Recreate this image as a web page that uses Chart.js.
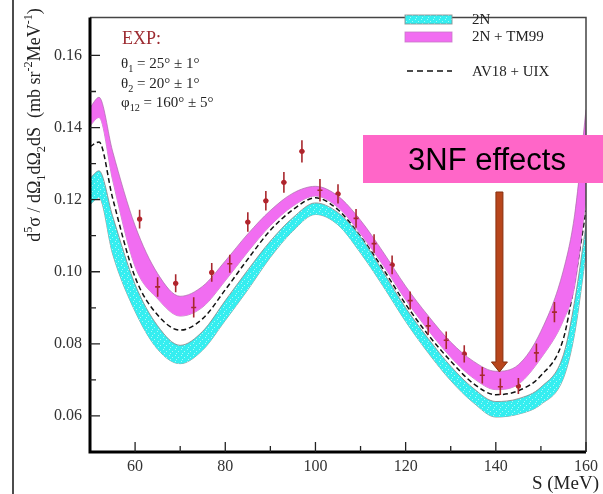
<!DOCTYPE html>
<html>
<head>
<meta charset="utf-8">
<script src="https://cdn.jsdelivr.net/npm/chart.js@4/dist/chart.umd.min.js"></script>
<style>
  html, body { margin: 0; padding: 0; background: #fff; }
  #wrap { width: 603px; height: 494px; position: relative; }
</style>
</head>
<body>
<div id="wrap"><canvas id="c"></canvas></div>
<script>
// S grid (MeV) for the theory curves
const S = [50, 52, 55, 60, 65, 70, 75, 80, 85, 90, 95, 100, 105, 110, 115, 120, 125, 130, 135, 140, 145, 150, 155, 157.5, 160];

// 2N + TM99 band
const magTop = [.1455, .1484, .1335, .1128, .0995, .0932, .0960, .1030, .1105, .1170, .1218, .1237, .1210, .1143, .1055, .0960, .0878, .0805, .0752, .0724, .0742, .0835, .1005, .1160, .1450];
const magBot = [.1405, .1428, .1255, .1014, .0925, .0877, .0902, .0975, .1055, .1128, .1182, .1210, .1178, .1105, .1018, .0922, .0838, .0763, .0705, .0673, .0688, .0760, .0865, .0960, .1200];
// AV18 + UIX
const av18 = [.1347, .1360, .1205, .0985, .0880, .0838, .0870, .0950, .1035, .1115, .1172, .1205, .1172, .1098, .1008, .0910, .0825, .0752, .0690, .0659, .0670, .0712, .0815, .0975, .1170];
// 2N band
const cyanTop = [.1259, .1280, .1155, .0965, .0850, .0796, .0835, .0920, .1005, .1085, .1150, .1191, .1164, .1097, .1000, .0900, .0815, .0738, .0677, .0640, .0648, .0680, .0770, .0920, .1130];
const cyanBot = [.1186, .1205, .1050, .0890, .0785, .0745, .0783, .0865, .0950, .1040, .1113, .1159, .1130, .1052, .0960, .0862, .0775, .0698, .0637, .0597, .0605, .0632, .0705, .0830, .1050];

// experimental points
const expS   = [61, 65, 69, 73, 77, 81, 85, 89, 93, 97, 101, 105, 109, 113, 117, 121, 125, 129, 133, 137, 141, 145, 149, 153];
const expY   = [.1146, .0958, .0968, .0901, .0998, .1022, .1138, .1197, .1248, .1334, .1226, .1216, .1148, .1078, .1019, .0920, .0850, .0810, .0772, .0713, .0681, .0683, .0775, .0888];
const expErr = [.0026, .0027, .0025, .0028, .0026, .0025, .0027, .0027, .0029, .0031, .0031, .0027, .0026, .0026, .0026, .0025, .0025, .0024, .0024, .0023, .0023, .0022, .0026, .0028];

// ticks
const xTicks = [60, 80, 100, 120, 140, 160];
const xMinor = [70, 90, 110, 130, 150];
const yTicks = [0.06, 0.08, 0.10, 0.12, 0.14, 0.16];
const yMinor = [0.07, 0.09, 0.11, 0.13, 0.15];

const C = {
    cyan:    '#35eef0',
    cyanDot: '#a8f8f8',
    mag:     '#f16df1',
    edge:    'rgba(140,140,140,0.85)',
    exp:     '#c41f2b',
    expBar:  '#a8282e',
    text:    '#222',
    serif:   "'Liberation Serif', 'DejaVu Serif', serif",
};

function pts(ys) { return S.map((x, i) => ({ x, y: ys[i] })); }

function cyanPattern() {
    const p = document.createElement('canvas');
    p.width = 6; p.height = 6;
    const g = p.getContext('2d');
    g.fillStyle = C.cyan; g.fillRect(0, 0, 6, 6);
    g.fillStyle = C.cyanDot;
    g.fillRect(1, 1, 1, 1); g.fillRect(4, 3, 1, 1); g.fillRect(2, 5, 1, 1);
    return g.createPattern(p, 'repeat');
}

// parts: [text, mode] with mode '' | 'sub' | 'sup'
function rich(ctx, x, y, parts, size, measureOnly) {
    let cx = x;
    for (const [t, m] of parts) {
        const fs = m ? size * 0.68 : size;
        ctx.font = `${fs}px ${C.serif}`;
        const dy = m === 'sub' ? size * 0.28 : m === 'sup' ? -size * 0.42 : 0;
        if (!measureOnly) ctx.fillText(t, cx, y + dy);
        cx += ctx.measureText(t).width;
    }
    return cx - x;
}

const decor = {
    id: 'decor',
    afterDatasetsDraw(chart) {
        const { ctx, scales: { x, y } } = chart;

        // error bars
        ctx.save();
        ctx.strokeStyle = C.expBar;
        ctx.lineWidth = 1.6;
        expS.forEach((s, i) => {
            const px = x.getPixelForValue(s);
            ctx.beginPath();
            ctx.moveTo(px, y.getPixelForValue(expY[i] - expErr[i]));
            ctx.lineTo(px, y.getPixelForValue(expY[i] + expErr[i]));
            ctx.moveTo(px - 2.5, y.getPixelForValue(expY[i]));
            ctx.lineTo(px + 2.5, y.getPixelForValue(expY[i]));
            ctx.stroke();
        });
        ctx.restore();
    },
    afterDraw(chart) {
        const { ctx, chartArea: a, scales: { x, y } } = chart;
        ctx.save();

        // slide border line
        ctx.strokeStyle = '#111';
        ctx.lineWidth = 1.5;
        ctx.beginPath(); ctx.moveTo(13, 0); ctx.lineTo(13, 494); ctx.stroke();

        // frame: top / right thin
        ctx.strokeStyle = '#444';
        ctx.lineWidth = 1.5;
        ctx.beginPath();
        ctx.moveTo(a.left, a.top); ctx.lineTo(a.right, a.top); ctx.lineTo(a.right, a.bottom);
        ctx.stroke();
        // left / bottom thick
        ctx.strokeStyle = '#000';
        ctx.lineWidth = 3;
        ctx.beginPath();
        ctx.moveTo(a.left, a.top); ctx.lineTo(a.left, a.bottom); ctx.lineTo(a.right, a.bottom);
        ctx.stroke();

        // inward ticks
        ctx.lineWidth = 1.3;
        ctx.strokeStyle = '#222';
        ctx.beginPath();
        xTicks.forEach(v => { const p = x.getPixelForValue(v); ctx.moveTo(p, a.bottom); ctx.lineTo(p, a.bottom - 10); });
        xMinor.forEach(v => { const p = x.getPixelForValue(v); ctx.moveTo(p, a.bottom); ctx.lineTo(p, a.bottom - 6); });
        yTicks.forEach(v => { const p = y.getPixelForValue(v); ctx.moveTo(a.left, p); ctx.lineTo(a.left + 10, p); });
        yMinor.forEach(v => { const p = y.getPixelForValue(v); ctx.moveTo(a.left, p); ctx.lineTo(a.left + 6, p); });
        ctx.stroke();

        // y axis title
        ctx.fillStyle = C.text;
        ctx.textBaseline = 'alphabetic';
        const yt = [['d', ''], ['5', 'sup'], ['\u03c3 / d\u03a9', ''], ['1', 'sub'], ['d\u03a9', ''], ['2', 'sub'],
                    ['dS  (mb sr', ''], ['-2', 'sup'], ['MeV', ''], ['-1', 'sup'], [')', '']];
        ctx.save();
        ctx.translate(40, 125);
        ctx.rotate(-Math.PI / 2);
        const w = rich(ctx, 0, 0, yt, 18, true);
        rich(ctx, -w / 2, 0, yt, 18);
        ctx.restore();

        // x axis title
        ctx.font = `19px ${C.serif}`;
        ctx.textAlign = 'right';
        ctx.fillText('S (MeV)', 599, 489);
        ctx.textAlign = 'left';

        // EXP block
        ctx.fillStyle = '#9c2a30';
        ctx.font = `18px ${C.serif}`;
        ctx.fillText('EXP:', 122, 44);
        ctx.fillStyle = C.text;
        rich(ctx, 121, 68, [['\u03b8', ''], ['1', 'sub'], [' = 25\u00b0 \u00b1 1\u00b0', '']], 15);
        rich(ctx, 121, 88, [['\u03b8', ''], ['2', 'sub'], [' = 20\u00b0 \u00b1 1\u00b0', '']], 15);
        rich(ctx, 121, 107, [['\u03c6', ''], ['12', 'sub'], [' = 160\u00b0 \u00b1 5\u00b0', '']], 15);

        // legend
        ctx.lineWidth = 1;
        ctx.fillStyle = cyanPat; ctx.fillRect(405, 15, 47, 9);
        ctx.strokeStyle = C.edge; ctx.strokeRect(405, 15, 47, 9);
        ctx.fillStyle = C.mag; ctx.fillRect(405, 32, 47, 10);
        ctx.strokeStyle = 'rgba(200,120,200,0.8)'; ctx.strokeRect(405, 32, 47, 10);
        ctx.strokeStyle = '#111'; ctx.lineWidth = 1.5;
        ctx.setLineDash([6, 4]);
        ctx.beginPath(); ctx.moveTo(407, 71); ctx.lineTo(452, 71); ctx.stroke();
        ctx.setLineDash([]);
        ctx.fillStyle = C.text;
        ctx.font = `15px ${C.serif}`;
        ctx.fillText('2N', 472, 24);
        ctx.fillText('2N + TM99', 472, 41);
        ctx.fillText('AV18 + UIX', 472, 76);

        // 3NF effects box + arrow
        ctx.fillStyle = '#ff66c8';
        ctx.fillRect(363, 135, 240, 48);
        ctx.fillStyle = '#000';
        ctx.font = "31px 'Liberation Sans', Arial, sans-serif";
        ctx.textAlign = 'center';
        ctx.fillText('3NF effects', 487, 170);
        ctx.textAlign = 'left';

        const ax = x.getPixelForValue(140.8);
        const tip = y.getPixelForValue(0.0722);
        ctx.fillStyle = '#b8461c';
        ctx.strokeStyle = '#86300f';
        ctx.lineWidth = 1;
        ctx.beginPath();
        ctx.moveTo(ax - 3.5, 192); ctx.lineTo(ax + 3.5, 192); ctx.lineTo(ax + 3.5, tip - 10);
        ctx.lineTo(ax + 8, tip - 10); ctx.lineTo(ax, tip); ctx.lineTo(ax - 8, tip - 10);
        ctx.lineTo(ax - 3.5, tip - 10); ctx.closePath();
        ctx.fill(); ctx.stroke();

        ctx.restore();
    }
};

const cv = document.getElementById('c');
const cyanPat = cyanPattern();

const line = (ys, extra) => Object.assign({
    data: pts(ys), pointRadius: 0, cubicInterpolationMode: 'monotone', borderWidth: 1,
    borderColor: C.edge, fill: false,
}, extra);

new Chart(cv, {
    type: 'line',
    data: {
        datasets: [
            line(cyanTop, { backgroundColor: cyanPat, fill: '+1' }),
            line(cyanBot),
            line(magTop, { backgroundColor: C.mag, fill: '+1', borderColor: 'rgba(170,110,170,0.7)' }),
            line(magBot, { borderColor: 'rgba(170,110,170,0.7)' }),
            line(av18, { borderColor: '#111', borderWidth: 1.5, borderDash: [5, 3] }),
            {
                data: expS.map((s, i) => ({ x: s, y: expY[i] })),
                showLine: false, pointRadius: 2.6, pointBorderWidth: 0,
                pointBackgroundColor: C.exp,
            },
        ]
    },
    options: {
        responsive: true, maintainAspectRatio: false, animation: false,
        layout: { padding: { top: 4, right: 15, left: 0, bottom: 0 } },
        plugins: { legend: { display: false }, tooltip: { enabled: false } },
        scales: {
            x: {
                type: 'linear', min: 50, max: 160,
                afterBuildTicks: s => { s.ticks = xTicks.map(v => ({ value: v })); },
                afterFit: s => { s.height = 42; },
                grid: { display: false, drawTicks: false }, border: { display: false },
                ticks: { padding: 5, color: '#333', font: { family: C.serif, size: 16 }, maxRotation: 0 },
            },
            y: {
                min: 0.05, max: 0.1705,
                afterBuildTicks: s => { s.ticks = yTicks.map(v => ({ value: v })); },
                afterFit: s => { s.width = 90; },
                grid: { display: false, drawTicks: false }, border: { display: false },
                ticks: { padding: 8, color: '#333', font: { family: C.serif, size: 16 },
                         callback: v => v.toFixed(2) },
            }
        }
    },
    plugins: [decor]
});
</script>
</body>
</html>
